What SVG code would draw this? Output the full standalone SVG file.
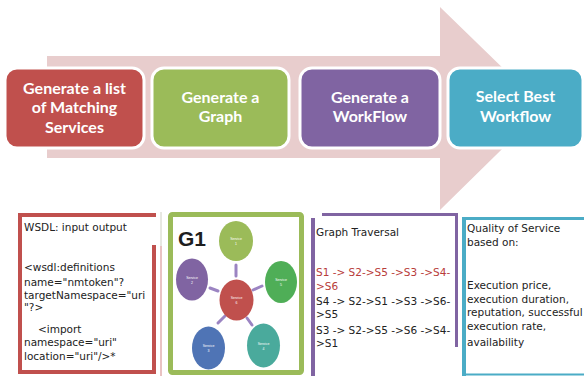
<svg xmlns="http://www.w3.org/2000/svg" width="584" height="376" viewBox="0 0 584 376">
  <style>
    .step { stroke: #ffffff; stroke-width: 3; }
    .stepText { font-family: Lato, "Liberation Sans", sans-serif; font-weight: bold; font-size: 16px; fill: #ffffff; text-anchor: middle; }
    .note { font-family: "DejaVu Sans", sans-serif; font-size: 10.5px; fill: #222222; }
    .hot { fill: #b83c3a; }
    .frame { fill: none; }
    .svc { font-family: "Liberation Sans", sans-serif; font-size: 3.5px; fill: #ffffff; text-anchor: middle; }
    .spoke { stroke: #9b84c2; stroke-width: 3; stroke-linecap: round; }
  </style>

  <rect width="584" height="376" fill="#ffffff"/>

  <!-- process arrow behind the steps -->
  <g id="connectors">
    <polygon points="47,56 440,56 440,7 544,108 440,210 440,158 47,158" fill="#e8cdcd"/>
  </g>

  <!-- process steps -->
  <g id="step-matching">
    <rect class="step" x="5" y="68" width="139" height="80" rx="12" fill="#c0504d"/>
    <text class="stepText" x="74.5" y="93.5">Generate a list</text>
    <text class="stepText" x="74.5" y="113">of Matching</text>
    <text class="stepText" x="74.5" y="132.5">Services</text>
  </g>
  <g id="step-graph">
    <rect class="step" x="152" y="68" width="137" height="80" rx="12" fill="#9bbb59"/>
    <text class="stepText" x="220.5" y="103">Generate a</text>
    <text class="stepText" x="220.5" y="122">Graph</text>
  </g>
  <g id="step-workflow">
    <rect class="step" x="300" y="68" width="140" height="80" rx="12" fill="#8064a2"/>
    <text class="stepText" x="370" y="103">Generate a</text>
    <text class="stepText" x="370" y="122">WorkFlow</text>
  </g>
  <g id="step-select">
    <rect class="step" x="448" y="68" width="135" height="80" rx="12" fill="#4bacc6"/>
    <text class="stepText" x="515.5" y="101.5">Select Best</text>
    <text class="stepText" x="515.5" y="121.5">Workflow</text>
  </g>

  <!-- WSDL panel -->
  <g id="panel-wsdl">
    <path class="frame" d="M154,245 V372 H20 V215 H156" stroke="#c0504d" stroke-width="4"/>
    <line x1="161" y1="212" x2="161" y2="246" stroke="#cfd0c4" stroke-width="1"/>
    <line x1="161" y1="246" x2="161" y2="376" stroke="#e2aeae" stroke-width="1.5"/>
    <text class="note" x="24" y="231">WSDL: input output</text>
    <text class="note" x="24" y="271">&lt;wsdl:definitions</text>
    <text class="note" x="24" y="286">name="nmtoken"?</text>
    <text class="note" x="24" y="299">targetNamespace="uri</text>
    <text class="note" x="24" y="311">"?&gt;</text>
    <text class="note" x="38" y="333">&lt;import</text>
    <text class="note" x="24" y="346">namespace="uri"</text>
    <text class="note" x="24" y="360">location="uri"/&gt;*</text>
  </g>

  <!-- graph panel -->
  <g id="panel-graph">
    <rect class="frame" x="170.5" y="214.5" width="131" height="158" rx="2" stroke="#9bbb59" stroke-width="5"/>
    <text x="178" y="246" font-family="'Liberation Sans', sans-serif" font-weight="bold" font-size="21" fill="#1e1e1e">G1</text>
    <line class="spoke" x1="236" y1="265" x2="236" y2="276"/>
    <line class="spoke" x1="253" y1="290" x2="262" y2="286"/>
    <line class="spoke" x1="210" y1="288" x2="218" y2="291"/>
    <line class="spoke" x1="218" y1="323" x2="225" y2="316"/>
    <line class="spoke" x1="247" y1="318" x2="252" y2="325"/>
    <g id="svc1">
      <ellipse cx="236" cy="241" rx="17" ry="20" fill="#9bbb59"/>
      <text class="svc" x="236" y="240">Service</text>
      <text class="svc" x="236" y="245">1</text>
    </g>
    <g id="svc5">
      <ellipse cx="281" cy="282" rx="16" ry="21" fill="#4fae57"/>
      <text class="svc" x="281" y="281">Service</text>
      <text class="svc" x="281" y="286">5</text>
    </g>
    <g id="svc6">
      <ellipse cx="236.5" cy="300" rx="17" ry="20.5" fill="#c0504d"/>
      <text class="svc" x="236.5" y="299">Service</text>
      <text class="svc" x="236.5" y="304">6</text>
    </g>
    <g id="svc2">
      <ellipse cx="192" cy="279.5" rx="16" ry="21" fill="#8064a2"/>
      <text class="svc" x="192" y="278.5">Service</text>
      <text class="svc" x="192" y="283.5">2</text>
    </g>
    <g id="svc3">
      <ellipse cx="208.5" cy="348" rx="16.5" ry="21.5" fill="#4f74b5"/>
      <text class="svc" x="208.5" y="347">Service</text>
      <text class="svc" x="208.5" y="352">3</text>
    </g>
    <g id="svc4">
      <ellipse cx="263.5" cy="345.5" rx="16.5" ry="22" fill="#4aaa9c"/>
      <text class="svc" x="263.5" y="344.5">Service</text>
      <text class="svc" x="263.5" y="349.5">4</text>
    </g>
  </g>

  <!-- traversal panel -->
  <g id="panel-traversal">
    <path class="frame" d="M313,218 V376" stroke="#8064a2" stroke-width="4"/>
    <path class="frame" d="M322,214.5 H456.5 V347" stroke="#8064a2" stroke-width="3"/>
    <text class="note" x="316" y="236">Graph Traversal</text>
    <text class="note hot" x="316" y="276">S1 -&gt; S2-&gt;S5 -&gt;S3 -&gt;S4-</text>
    <text class="note hot" x="316" y="290">&gt;S6</text>
    <text class="note" x="316" y="305">S4 -&gt; S2-&gt;S1 -&gt;S3 -&gt;S6-</text>
    <text class="note" x="316" y="318">&gt;S5</text>
    <text class="note" x="316" y="334">S3 -&gt; S2-&gt;S5 -&gt;S6 -&gt;S4-</text>
    <text class="note" x="316" y="347">&gt;S1</text>
  </g>

  <!-- QoS panel -->
  <g id="panel-qos">
    <path class="frame" d="M464,217 V376" stroke="#4bacc6" stroke-width="4"/>
    <path class="frame" d="M462,218.5 H584" stroke="#4bacc6" stroke-width="3"/>
    <path class="frame" d="M462,374.5 H584" stroke="#4bacc6" stroke-width="2"/>
    <text class="note" x="467" y="232">Quality of Service</text>
    <text class="note" x="467" y="246">based on:</text>
    <text class="note" x="467" y="289">Execution price,</text>
    <text class="note" x="467" y="303">execution duration,</text>
    <text class="note" x="467" y="316">reputation, successful</text>
    <text class="note" x="467" y="330">execution rate,</text>
    <text class="note" x="467" y="346">availability</text>
  </g>
</svg>
